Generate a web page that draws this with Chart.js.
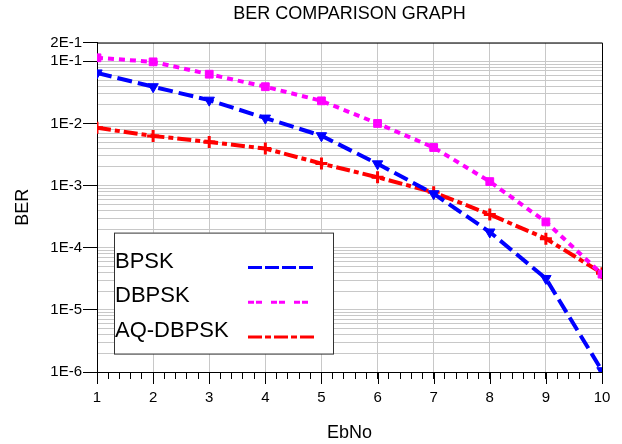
<!DOCTYPE html>
<html>
<head>
<meta charset="utf-8">
<script src="https://cdn.jsdelivr.net/npm/chart.js@4"></script>
<style>
  html, body { margin: 0; padding: 0; background: #fff; }
  #wrap { width: 622px; height: 444px; }
</style>
</head>
<body>
<div id="wrap"><canvas id="berChart" width="622" height="444"></canvas></div>
<script>
const ebNo = [1, 2, 3, 4, 5, 6, 7, 8, 9, 10];
const bpsk = [0.065, 0.039, 0.0237, 0.0122, 0.00635, 0.00224, 0.00074, 0.000179, 0.000032, 0.00000105];
const dbpsk = [0.114, 0.098, 0.062, 0.039, 0.0231, 0.01, 0.0041, 0.00116, 0.00026, 0.0000376];
const aqDbpsk = [0.0085, 0.0063, 0.00504, 0.00394, 0.00226, 0.00136, 0.00078, 0.000344, 0.00014, 0.000039];
const seriesNames = ['BPSK', 'DBPSK', 'AQ-DBPSK'];

const FONT = 'Liberation Sans, Arial, sans-serif';

function mantissa(v) {
    const e = Math.floor(Math.log10(v) + 1e-9);
    return { m: v / Math.pow(10, e), e: e };
}
function isMajor(v) {
    const { m } = mantissa(v);
    return Math.abs(m - 1) < 1e-6 || Math.abs(v - 0.2) < 1e-9;
}
function sciLabel(v) {
    const { m, e } = mantissa(v);
    return Math.round(m) + 'E' + e;
}

// frame round the plot, longer major x ticks, legend box
const framePlugin = {
    id: 'frame',
    afterDatasetsDraw(chart) {
        const { ctx, chartArea: a } = chart;
        const xs = chart.scales.x;
        ctx.save();
        ctx.strokeStyle = '#000';
        ctx.lineWidth = 1;
        ctx.beginPath();
        ctx.moveTo(a.left, a.top + 0.5);
        ctx.lineTo(a.right + 0.5, a.top + 0.5);
        ctx.lineTo(a.right + 0.5, a.bottom);
        ctx.stroke();

        ebNo.forEach(v => {
            const px = Math.round(xs.getPixelForValue(v)) + 0.5;
            ctx.beginPath();
            ctx.moveTo(px, a.bottom);
            ctx.lineTo(px, a.bottom + 12);
            ctx.stroke();
        });

        // legend
        const bx = a.left + 17, by = a.top + 190, bw = 219, bh = 121;
        ctx.fillStyle = '#fff';
        ctx.fillRect(bx, by, bw, bh);
        ctx.strokeStyle = '#333';
        ctx.strokeRect(bx + 0.5, by + 0.5, bw, bh);
        ctx.font = '22px ' + FONT;
        ctx.textBaseline = 'middle';
        chart.data.datasets.forEach((ds, i) => {
            const ty = by + 29 + i * 34.7;
            ctx.fillStyle = '#000';
            ctx.fillText(ds.label, bx + 1, ty);
            ctx.strokeStyle = ds.borderColor;
            ctx.lineWidth = 3;
            ctx.setLineDash(ds.legendDash);
            ctx.beginPath();
            ctx.moveTo(bx + 134, ty + 6);
            ctx.lineTo(bx + 200, ty + 6);
            ctx.stroke();
            ctx.setLineDash([]);
        });
        ctx.restore();
    }
};

new Chart(document.getElementById('berChart'), {
    type: 'line',
    data: {
        datasets: [{
            label: seriesNames[0],
            data: ebNo.map((x, i) => ({ x: x, y: bpsk[i] })),
            borderColor: '#0000ff',
            backgroundColor: '#0000ff',
            borderWidth: 4,
            borderDash: [15, 6],
            legendDash: [14, 3],
            pointStyle: 'triangle',
            rotation: 180,
            pointRadius: 6,
            pointBorderWidth: 1
        }, {
            label: seriesNames[1],
            data: ebNo.map((x, i) => ({ x: x, y: dbpsk[i] })),
            borderColor: '#ff00ff',
            backgroundColor: '#ff00ff',
            borderWidth: 4,
            borderDash: [6, 5],
            legendDash: [6, 2, 6, 9],
            pointStyle: 'rect',
            pointRadius: 5.5,
            pointBorderWidth: 1
        }, {
            label: seriesNames[2],
            data: ebNo.map((x, i) => ({ x: x, y: aqDbpsk[i] })),
            borderColor: '#ff0000',
            backgroundColor: '#ff0000',
            borderWidth: 4,
            borderDash: [14, 4, 5, 4],
            legendDash: [14, 3, 6, 3],
            pointStyle: 'cross',
            pointRadius: 6,
            pointBorderWidth: 3
        }]
    },
    options: {
        responsive: false,
        animation: false,
        layout: { padding: { left: 0, right: 20, top: 0, bottom: 0 } },
        plugins: {
            legend: { display: false },
            tooltip: { enabled: false },
            title: {
                display: true,
                text: 'BER COMPARISON GRAPH',
                fullSize: false,
                color: '#000',
                font: { family: FONT, size: 18, weight: 'normal' },
                padding: { top: 3, bottom: 18 }
            }
        },
        scales: {
            x: {
                type: 'linear',
                min: 1,
                max: 10,
                afterFit: s => { s.height = 72; },
                ticks: {
                    stepSize: 0.2,
                    autoSkip: false,
                    maxRotation: 0,
                    color: '#000',
                    padding: 10,
                    font: { family: FONT, size: 15 },
                    callback: v => Math.abs(v - Math.round(v)) < 1e-6 ? String(Math.round(v)) : ''
                },
                grid: {
                    color: c => c.tick && Math.abs(c.tick.value - Math.round(c.tick.value)) < 1e-6 ? '#c8c8c8' : 'rgba(0,0,0,0)',
                    lineWidth: 1,
                    tickColor: '#000',
                    tickLength: 7
                },
                border: { color: '#000', width: 1 },
                title: {
                    display: true,
                    text: 'EbNo',
                    color: '#000',
                    font: { family: FONT, size: 18 },
                    padding: { top: 0, bottom: 0 }
                }
            },
            y: {
                type: 'logarithmic',
                min: 0.000001,
                max: 0.2,
                afterFit: s => { s.width = 97; },
                afterBuildTicks: s => {
                    s.ticks = s.ticks.filter(t => {
                        const { m } = mantissa(t.value);
                        return Math.abs(m - Math.round(m)) < 1e-6;
                    });
                },
                ticks: {
                    autoSkip: false,
                    color: '#000',
                    padding: 1,
                    font: { family: FONT, size: 15 },
                    callback: v => isMajor(v) ? sciLabel(v) : ''
                },
                grid: {
                    color: '#c8c8c8',
                    lineWidth: 1,
                    tickColor: c => c.tick && isMajor(c.tick.value) ? '#000' : 'rgba(0,0,0,0)',
                    tickLength: 14
                },
                border: { color: '#000', width: 1 },
                title: {
                    display: true,
                    text: 'BER',
                    color: '#000',
                    font: { family: FONT, size: 18 },
                    padding: { top: 12, bottom: 0 }
                }
            }
        }
    },
    plugins: [framePlugin]
});
</script>
</body>
</html>
